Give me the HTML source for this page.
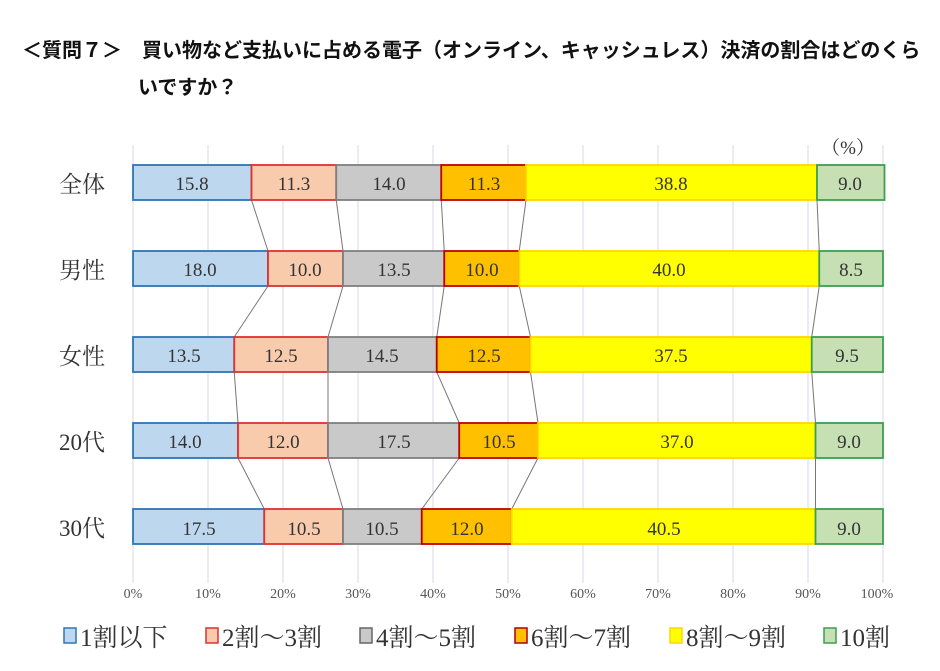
<!DOCTYPE html>
<html><head><meta charset="utf-8"><style>
body{margin:0;background:#fff;width:940px;height:671px;overflow:hidden}
.t{position:absolute;left:22px;font:bold 20px "Liberation Sans","Noto Sans CJK JP",sans-serif;color:#111;white-space:nowrap}
svg text{font-family:"Liberation Serif","Noto Serif CJK SC",serif}
</style></head><body>
<div class="t" style="top:34px">＜質問７＞　買い物など支払いに占める電子（オンライン、キャッシュレス）決済の割合はどのくら</div>
<div class="t" style="top:71px;left:138px">いですか？</div>
<svg id="s" width="940" height="671" style="position:absolute;left:0;top:0">
<g id="g"></g>
<g font-size="19" fill="#333" text-anchor="middle">
<text x="848" y="154">（%）</text>
<text x="192" y="190">15.8</text><text x="294" y="190">11.3</text><text x="389" y="190">14.0</text><text x="484" y="190">11.3</text><text x="671" y="190">38.8</text><text x="850" y="190">9.0</text>
<text x="200" y="276">18.0</text><text x="305" y="276">10.0</text><text x="394" y="276">13.5</text><text x="482" y="276">10.0</text><text x="669" y="276">40.0</text><text x="851" y="276">8.5</text>
<text x="184" y="362">13.5</text><text x="281" y="362">12.5</text><text x="382" y="362">14.5</text><text x="484" y="362">12.5</text><text x="671" y="362">37.5</text><text x="847" y="362">9.5</text>
<text x="185" y="448">14.0</text><text x="283" y="448">12.0</text><text x="394" y="448">17.5</text><text x="499" y="448">10.5</text><text x="677" y="448">37.0</text><text x="849" y="448">9.0</text>
<text x="199" y="535">17.5</text><text x="304" y="535">10.5</text><text x="382" y="535">10.5</text><text x="467" y="535">12.0</text><text x="664" y="535">40.5</text><text x="849" y="535">9.0</text>
</g>
<g font-size="23" fill="#333" text-anchor="middle">
<text x="82" y="192">全体</text><text x="82" y="278">男性</text><text x="82" y="364">女性</text><text x="82" y="450">20代</text><text x="82" y="536">30代</text>
</g>
<g font-size="14" fill="#555" text-anchor="middle">
<text x="133" y="598">0%</text><text x="208" y="598">10%</text><text x="283" y="598">20%</text><text x="358" y="598">30%</text><text x="433" y="598">40%</text><text x="508" y="598">50%</text><text x="583" y="598">60%</text><text x="658" y="598">70%</text><text x="733" y="598">80%</text><text x="808" y="598">90%</text><text x="877" y="598">100%</text>
</g>
<g font-size="25" fill="#333">
<rect x="64" y="628" width="12" height="15" fill="#BDD7EE" stroke="#2E75B6" stroke-width="1.5"/><text x="80" y="646">1割以下</text>
<rect x="206" y="628" width="12" height="15" fill="#F8CBAD" stroke="#E03030" stroke-width="1.5"/><text x="222" y="646">2割～3割</text>
<rect x="360" y="628" width="12" height="15" fill="#C9C9C9" stroke="#666" stroke-width="1.5"/><text x="376" y="646">4割～5割</text>
<rect x="515" y="628" width="12" height="15" fill="#FFC000" stroke="#B00000" stroke-width="1.5"/><text x="531" y="646">6割～7割</text>
<rect x="670" y="628" width="12" height="15" fill="#FFFF00" stroke="#FFD700" stroke-width="1.5"/><text x="686" y="646">8割～9割</text>
<rect x="824" y="628" width="12" height="15" fill="#C6E0B4" stroke="#3AA050" stroke-width="1.5"/><text x="840" y="646">10割</text>
</g>
</svg>
<script>
var d=[[15.8,11.3,14,11.3,38.8,9],[18,10,13.5,10,40,8.5],[13.5,12.5,14.5,12.5,37.5,9.5],[14,12,17.5,10.5,37,9],[17.5,10.5,10.5,12,40.5,9]];
var F=["#BDD7EE","#F8CBAD","#C9C9C9","#FFC000","#FFFF00","#C6E0B4"],S=["#2E75B6","#E03030","#7F7F7F","#C00000","#FFD700","#3AA050"];
var Y=[165,251,337,423,509],H=35,h='';
for(var k=0;k<=10;k++){var x=133+75*k;h+='<line x1="'+x+'" y1="145" x2="'+x+'" y2="583" stroke="#d3dae2" stroke-width="1"/>';}
var cum=d.map(function(r){var c=[0];r.forEach(function(v){c.push(c[c.length-1]+v)});return c.map(function(p){return 133+7.5*p})});
for(var i=0;i<4;i++)for(var j=1;j<6;j++)h+='<line x1="'+cum[i][j]+'" y1="'+(Y[i]+H)+'" x2="'+cum[i+1][j]+'" y2="'+Y[i+1]+'" stroke="#777" stroke-width="1"/>';
for(var i=0;i<5;i++)for(var j=0;j<6;j++){var a=cum[i][j],b=cum[i][j+1];h+='<rect x="'+a+'" y="'+Y[i]+'" width="'+(b-a)+'" height="'+H+'" fill="'+F[j]+'" stroke="'+S[j]+'" stroke-width="1.8"/>';}
document.getElementById('g').innerHTML=h;
</script>
</body></html>
